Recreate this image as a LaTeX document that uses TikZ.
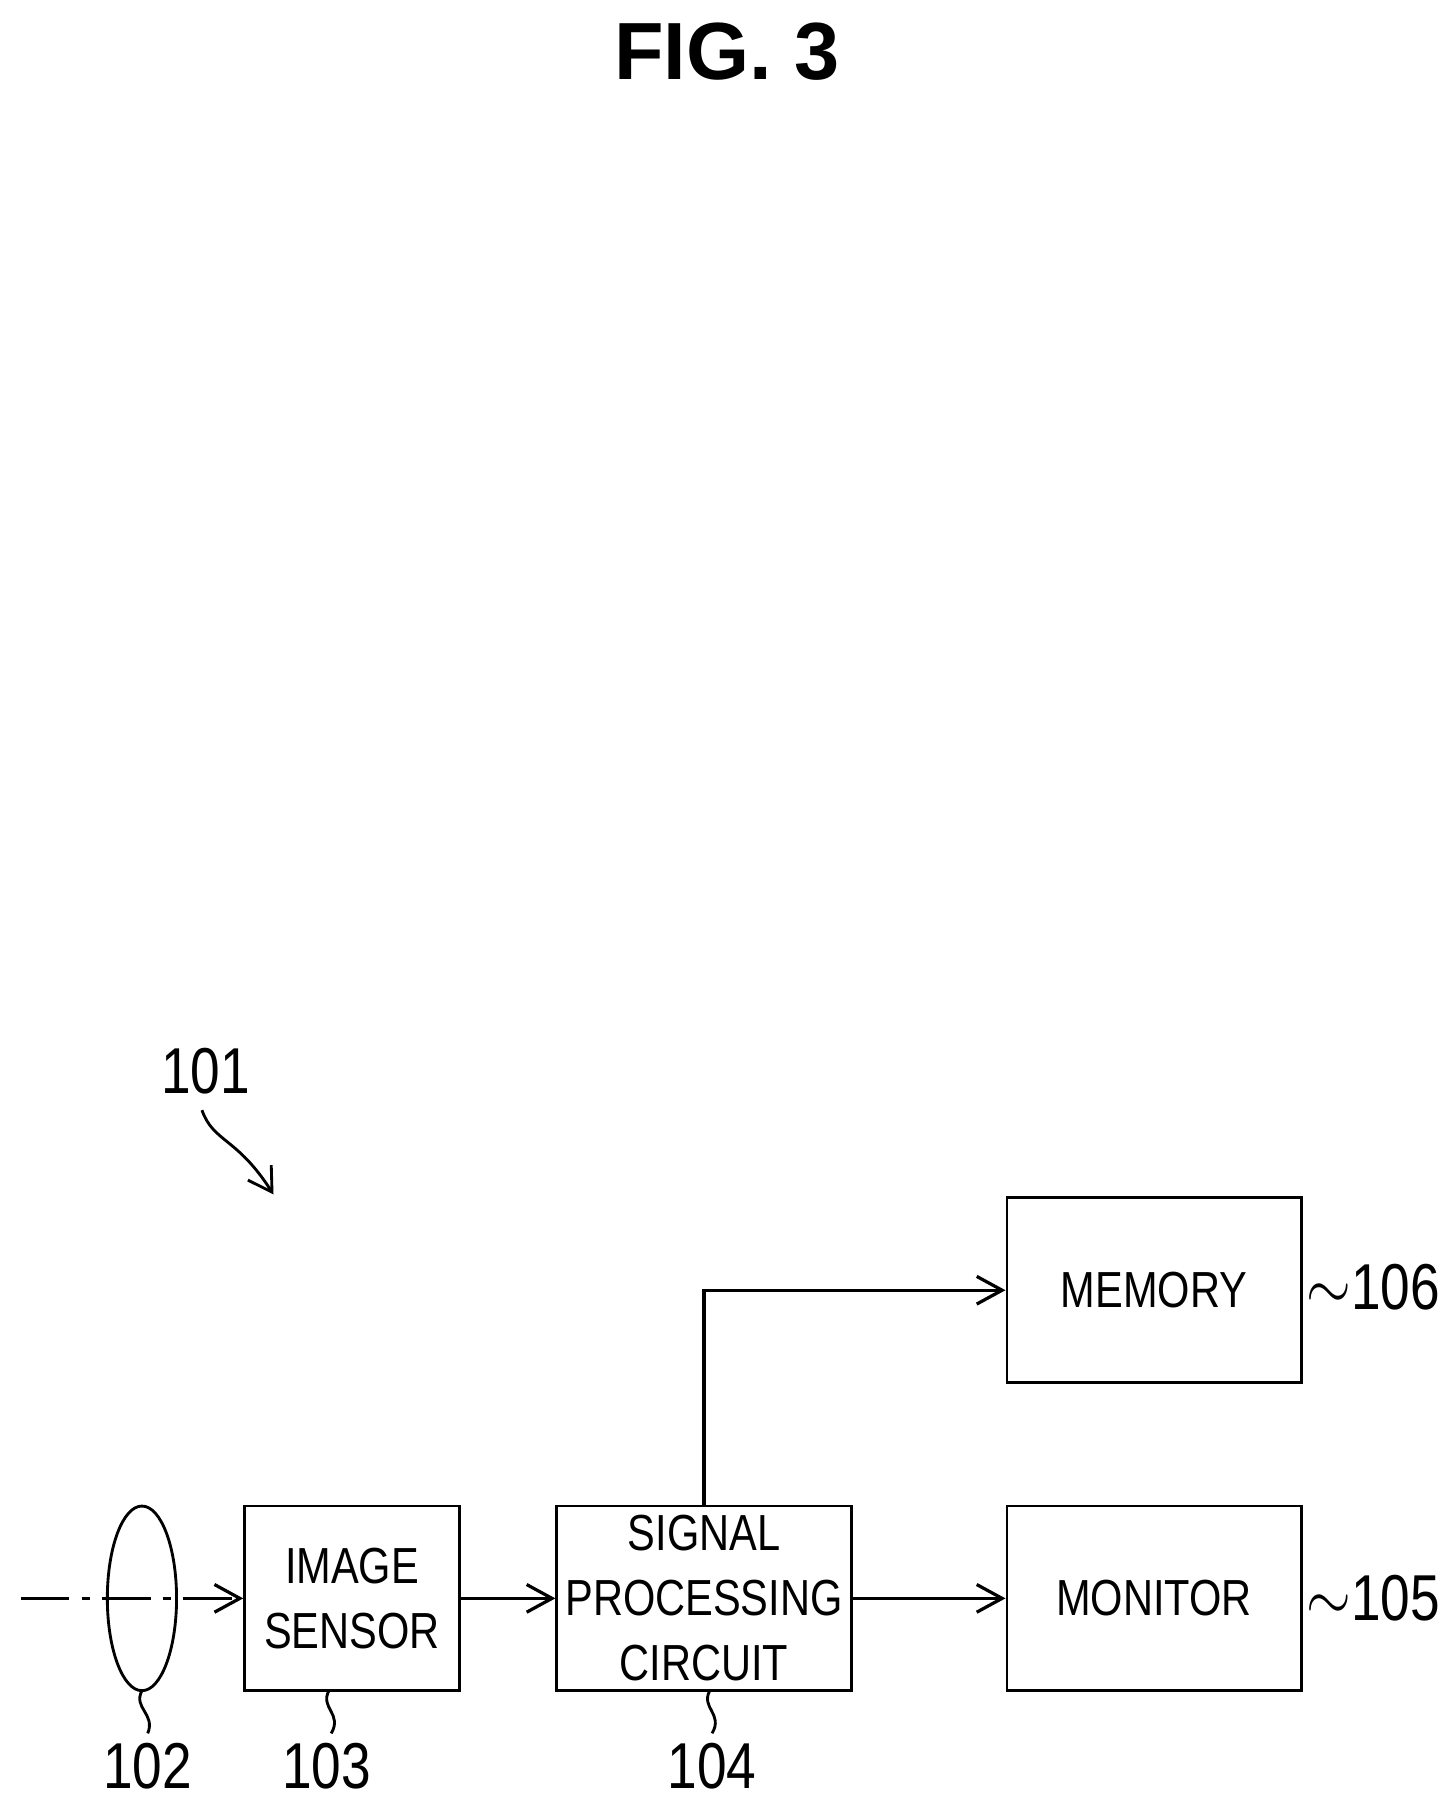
\documentclass[tikz,border=0pt]{standalone}
\usepackage{fontspec}
\usepackage{graphicx}
\setmainfont{Liberation Sans}
\usetikzlibrary{arrows.meta}
\newcommand{\narrow}[1]{\scalebox{0.82}[1]{#1}}
\begin{document}
\begin{tikzpicture}[x=0.1mm,y=-0.1mm,
  blk/.style={draw,line width=0.7pt,minimum width=18.6mm,minimum height=16mm,align=center,font=\fontsize{12.5}{16}\selectfont,inner sep=0pt},
  wide/.style={blk,minimum width=25.5mm},
  lbl/.style={font=\fontsize{16}{18}\selectfont,inner sep=1pt},
  flow/.style={line width=0.8pt,-{Straight Barb[length=2.2mm,width=2.4mm]}}]
\useasboundingbox (0,0) rectangle (1250,1558);
\node[font=\bfseries\fontsize{20}{22}\selectfont] (title) at (630,45) {FIG. 3};
% blocks
\node[blk] (sensor) at (305,1385) {\narrow{IMAGE}\\\narrow{SENSOR}};
\node[wide] (spc) at (610,1385) {\narrow{SIGNAL}\\\narrow{PROCESSING}\\\narrow{CIRCUIT}};
\node[wide] (memory) at (1000,1118) {\narrow{MEMORY}};
\node[wide] (monitor) at (1000,1385) {\narrow{MONITOR}};
\draw[line width=0.7pt] (123,1385) ellipse (30 and 80);
\coordinate (axis) at (18,1385);
\coordinate (bend) at (610,1118);
% connectors
\draw[flow,dash pattern=on 12pt off 3pt on 2pt off 3pt] (axis) -- (sensor.west);
\draw[flow] (sensor) -- (spc);
\draw[flow] (spc) -- (monitor);
\draw[flow] (spc.north) -- (bend) -- (memory.west);
% reference numerals
\node[lbl] (n101) at (178,928) {\narrow{101}};
\draw[line width=0.7pt,-{Straight Barb[length=2mm,width=2.4mm]}] (175,962) .. controls (185,990) and (205,985) .. (237,1035);
\node[lbl] (n102) at (128,1530) {\narrow{102}};
\draw[line width=0.7pt] (123,1465) .. controls (115,1480) and (135,1485) .. (128,1502);
\node[lbl] (n103) at (283,1530) {\narrow{103}};
\draw[line width=0.7pt] (285,1465) .. controls (277,1480) and (297,1485) .. (287,1502);
\node[lbl] (n104) at (617,1530) {\narrow{104}};
\draw[line width=0.7pt] (615,1465) .. controls (607,1480) and (627,1485) .. (617,1502);
\node[lbl,anchor=west] (n106) at (1128,1115) {\narrow{$\sim$106}};
\node[lbl,anchor=west] (n105) at (1128,1385) {\narrow{$\sim$105}};
\end{tikzpicture}
\end{document}
